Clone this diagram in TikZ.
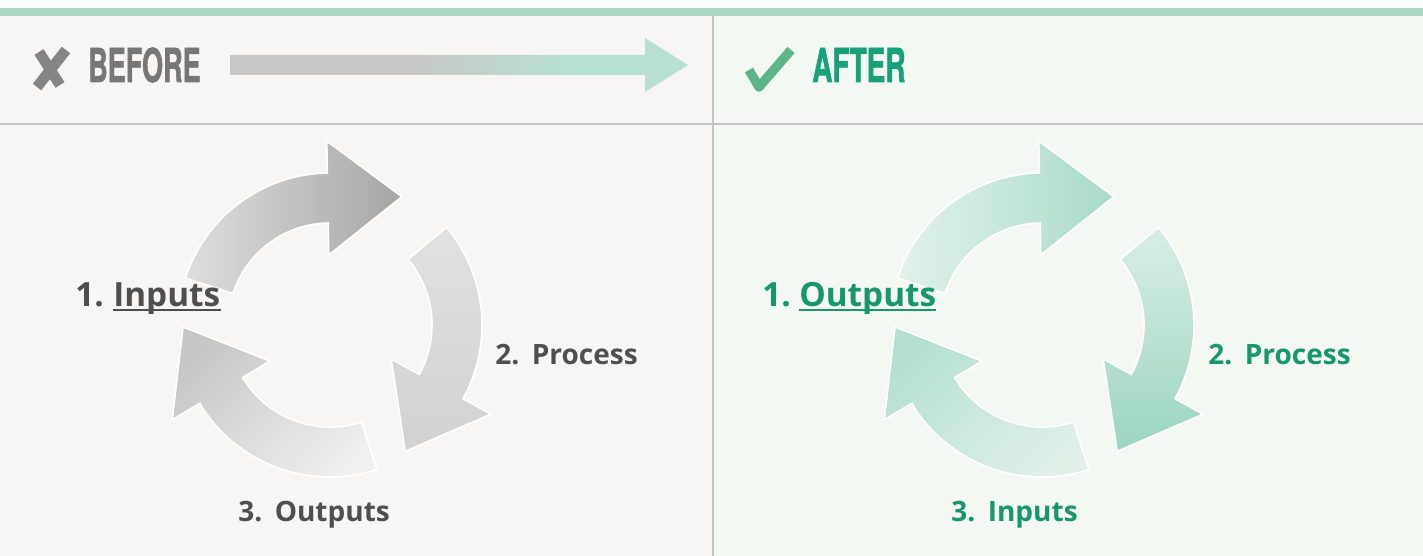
\documentclass[tikz,border=0pt]{standalone}
\usepackage{fontspec}
\setmainfont{Open Sans}
\newfontfamily\hdrfont[BoldFeatures={FakeBold=1.6}]{TeX Gyre Heros}
\usetikzlibrary{calc}
\definecolor{bgL}{HTML}{F7F6F4}
\definecolor{bgR}{HTML}{F3F8F2}
\definecolor{topbar}{HTML}{A9D9C5}
\definecolor{linegray}{HTML}{C4C4C4}
\definecolor{hgray}{HTML}{C8C8C8}
\definecolor{hmint}{HTML}{B8E0D1}
\definecolor{befc}{HTML}{777777}
\definecolor{aftc}{HTML}{17A079}
\definecolor{chkc}{HTML}{5DB68A}
\definecolor{xc}{HTML}{858585}
\definecolor{txtg}{HTML}{4F4F4F}
\definecolor{txtt}{HTML}{18976F}
\pgfdeclarehorizontalshading{hdrarrow}{100bp}{color(0bp)=(hgray); color(45bp)=(hgray); color(62bp)=(hmint); color(100bp)=(hmint)}
\newcommand\cycarrow[3]{%
  \path[#3] (#1:152) arc[start angle=#1, end angle=#2, radius=152]
    -- (#2:184) -- ($(#2:127)+({#2-90}:74)$) -- (#2:70) -- (#2:102)
    arc[start angle=#2, end angle=#1, radius=102] -- cycle;}
\begin{document}
\begin{tikzpicture}[x=0.75pt,y=0.75pt,
  lbl/.style={inner sep=0pt, anchor=base west, font=\bfseries\fontsize{21}{25}\selectfont},
  lblbig/.style={inner sep=0pt, anchor=base west, font=\bfseries\fontsize{25}{29}\selectfont},
  hdr/.style={inner sep=0pt, anchor=base west, font=\hdrfont\bfseries\fontsize{35}{40}\selectfont},
  arr/.style={draw=white, line width=1.2pt, line join=miter}]
\useasboundingbox (0,0) rectangle (1423,556);
\fill[white] (0,0) rectangle (1423,556);
\fill[bgL] (0,0) rectangle (713,540);
\fill[bgR] (713,0) rectangle (1423,540);
\fill[topbar] (0,540) rectangle (1423,548);
\draw[linegray, line width=1.1pt] (0,432) -- (1423,432);
\draw[linegray, line width=0.9pt] (713,0) -- (713,540);

% header left
\draw[xc, line width=8pt] (39,504) -- (60,471);
\draw[xc, line width=8pt] (66,506) -- (37,469);
\node[hdr, text=befc] (before) at (88,474) {\scalebox{0.58}[1]{BEFORE}};
\path[shading=hdrarrow] (230,481) -- (645,481) -- (645,464) -- (688,491) -- (645,518) -- (645,501) -- (230,501) -- cycle;

% header right
\draw[chkc, line width=7pt, line join=round] (749,486) -- (759,469) -- (791,506);
\node[hdr, text=aftc] (after) at (812,474) {\scalebox{0.6}[1]{AFTER}};

% left cycle
\begin{scope}[shift={(330,231)}]
  \cycarrow{162}{91}{arr, left color=black!13, right color=black!35}
  \cycarrow{40}{-29}{arr, top color=black!12, bottom color=black!18}
  \cycarrow{-72}{-149}{arr, top color=black!22, bottom color=black!6, shading angle=45}
\end{scope}
% right cycle
\begin{scope}[shift={(1042,231)}]
  \cycarrow{162}{91}{arr, left color=hmint!25!bgR, right color=hmint!80!aftc!85}
  \cycarrow{40}{-29}{arr, top color=hmint!45!bgR, bottom color=hmint!75!aftc!90}
  \cycarrow{-72}{-149}{arr, top color=hmint!90!aftc!85, bottom color=hmint!30!bgR, shading angle=45}
\end{scope}

% left labels
\node[lblbig, text=txtg] (l1n) at (75,249) {1.};
\node[lblbig, text=txtg] (l1w) at (113,249) {Inputs};
\draw[txtg, line width=1.5pt] ([yshift=-2.5pt]l1w.base west) -- ([yshift=-2.5pt]l1w.base east);
\node[lbl, text=txtg] (l2) at (495,191) {2.\hspace{0.45em}Process};
\node[lbl, text=txtg] (l3) at (238,34) {3.\hspace{0.45em}Outputs};

% right labels
\node[lblbig, text=txtt] (r1n) at (762,249) {1.};
\node[lblbig, text=txtt] (r1w) at (799,249) {Outputs};
\draw[txtt, line width=1.5pt] ([yshift=-2.5pt]r1w.base west) -- ([yshift=-2.5pt]r1w.base east);
\node[lbl, text=txtt] (r2) at (1208,191) {2.\hspace{0.45em}Process};
\node[lbl, text=txtt] (r3) at (951,34) {3.\hspace{0.45em}Inputs};
\end{tikzpicture}
\end{document}
